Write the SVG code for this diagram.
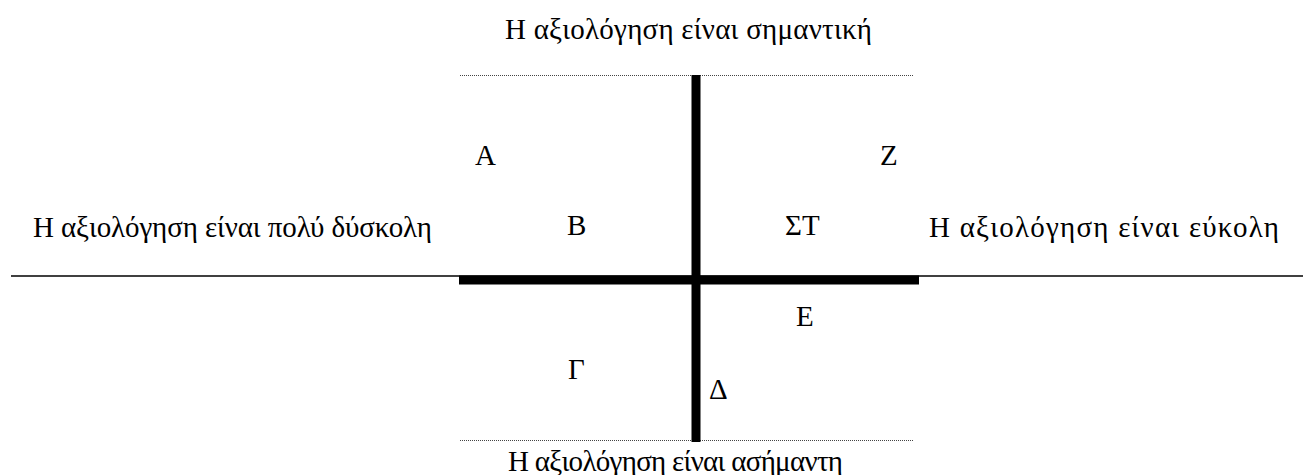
<svg xmlns="http://www.w3.org/2000/svg" width="1303" height="475" viewBox="0 0 1303 475">
<style>
text{font-family:"Liberation Serif","Times New Roman",serif;font-size:29px;fill:#000}
.thick{stroke:#000;stroke-width:9;fill:none}
.thin{stroke:#000;stroke-width:1.3;fill:none}
.dot{stroke:#444;stroke-width:1;stroke-dasharray:1 1;fill:none}
</style>
<rect width="1303" height="475" fill="#fff"/>
<g id="connectors">
<line class="dot" x1="460" y1="75.5" x2="913" y2="75.5"/>
<line class="dot" x1="460" y1="440.5" x2="913" y2="440.5"/>
<line class="thin" x1="11" y1="276" x2="1303" y2="276"/>
<line class="thick" x1="459" y1="280" x2="919" y2="280"/>
<line class="thick" x1="696" y1="75" x2="696" y2="442"/>
</g>
<g id="top"><text x="505" y="39" textLength="367" lengthAdjust="spacing">Η αξιολόγηση είναι σημαντική</text></g>
<g id="bottom"><text x="508" y="471" textLength="335" lengthAdjust="spacing">Η αξιολόγηση είναι ασήμαντη</text></g>
<g id="left"><text x="33" y="237" textLength="399" lengthAdjust="spacing">Η αξιολόγηση είναι πολύ δύσκολη</text></g>
<g id="right"><text x="929" y="237" textLength="350" lengthAdjust="spacing">Η αξιολόγηση είναι εύκολη</text></g>
<g id="A"><text x="475" y="165">Α</text></g>
<g id="Z"><text x="880" y="165">Ζ</text></g>
<g id="B"><text x="567" y="235">Β</text></g>
<g id="ST"><text x="785" y="235">ΣΤ</text></g>
<g id="E"><text x="796" y="326">Ε</text></g>
<g id="G"><text x="568" y="379">Γ</text></g>
<g id="D"><text x="709" y="399">Δ</text></g>
</svg>
